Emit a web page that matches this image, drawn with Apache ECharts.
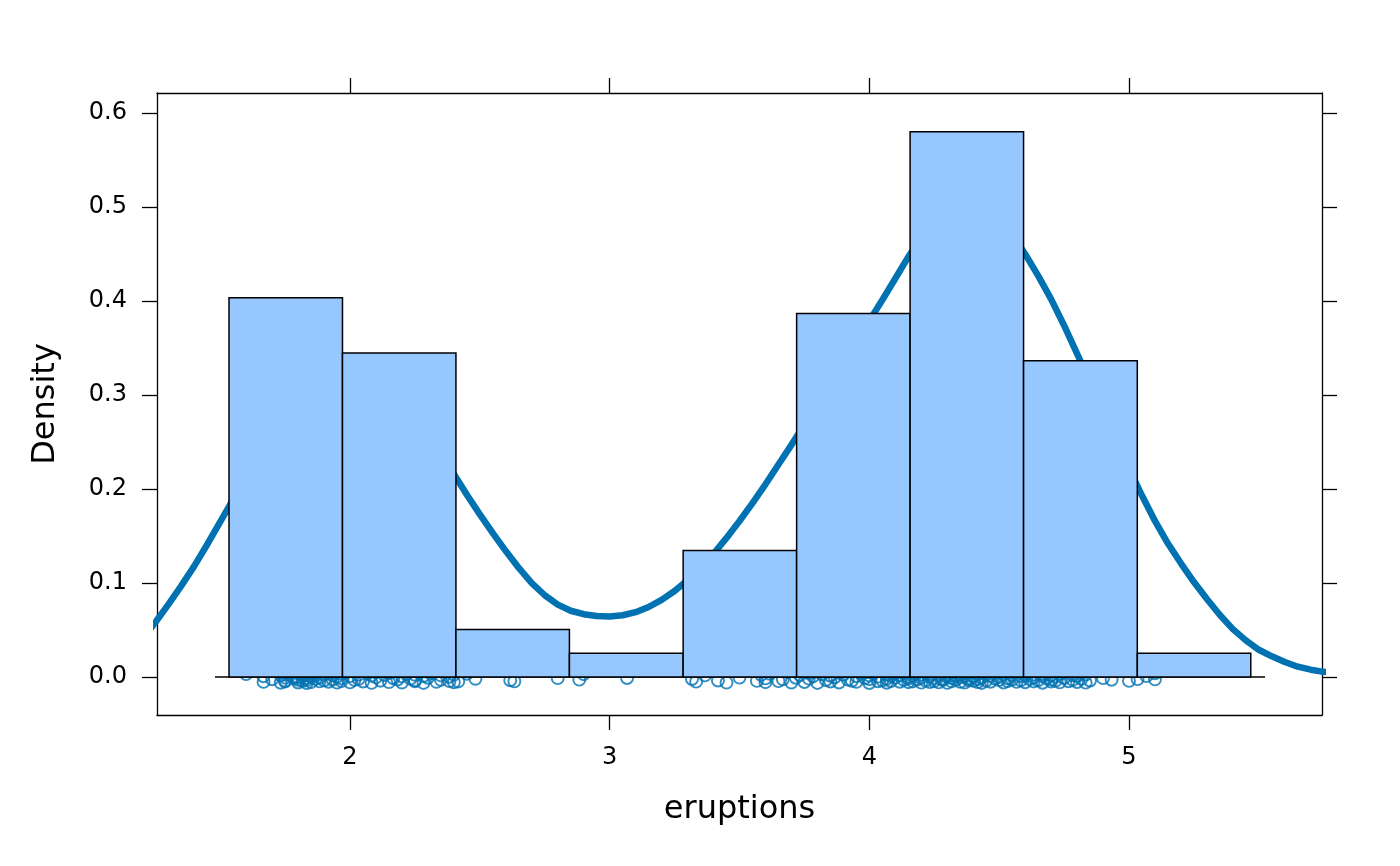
<!DOCTYPE html>
<html><head><meta charset="utf-8">
<script src="https://cdn.jsdelivr.net/npm/echarts@6/dist/echarts.min.js"></script>
<style>html,body{margin:0;padding:0;background:#fff}#c{width:1400px;height:866px}</style>
</head><body><div id="c"></div>
<script>
// histogram bins (eruptions) and densities
const binEdges = [1.534, 1.971, 2.408, 2.845, 3.283, 3.720, 4.157, 4.594, 5.032, 5.469];
const binDensity = [0.4036, 0.3448, 0.0505, 0.0252, 0.1345, 0.3868, 0.5802, 0.3364, 0.0252];

// density curve
const curveX = [1.20,1.25,1.30,1.35,1.40,1.45,1.50,1.55,1.60,1.65,1.70,1.75,1.80,1.85,1.90,1.95,
  2.00,2.05,2.10,2.15,2.20,2.25,2.30,2.35,2.40,2.45,2.50,2.55,2.60,2.65,2.70,2.75,2.80,2.85,2.90,2.95,
  3.00,3.05,3.10,3.15,3.20,3.25,3.30,3.35,3.40,3.45,3.50,3.55,3.60,3.65,3.70,3.75,3.80,3.85,3.90,3.95,
  4.00,4.05,4.10,4.15,4.20,4.25,4.30,4.35,4.40,4.45,4.50,4.55,4.60,4.65,4.70,4.75,4.80,4.85,4.90,4.95,
  5.00,5.05,5.10,5.15,5.20,5.25,5.30,5.35,5.40,5.45,5.50,5.55,5.60,5.65,5.70,5.75,5.80];
const curveY = [0.040,0.058,0.077,0.097,0.118,0.141,0.165,0.189,0.212,0.235,0.257,0.277,0.295,0.310,0.321,0.328,
  0.331,0.329,0.323,0.312,0.298,0.280,0.260,0.238,0.216,0.194,0.173,0.153,0.134,0.116,0.100,0.087,0.077,0.0705,0.0668,0.0650,
  0.0645,0.0657,0.069,0.0745,0.082,0.0915,0.103,0.116,0.131,0.148,0.166,0.185,0.205,0.226,0.247,0.269,0.291,0.313,0.336,0.358,
  0.379,0.401,0.424,0.447,0.467,0.483,0.495,0.501,0.502,0.497,0.487,0.471,0.450,0.427,0.402,0.374,0.344,0.314,0.283,0.252,
  0.222,0.193,0.166,0.142,0.121,0.101,0.083,0.066,0.051,0.039,0.029,0.022,0.016,0.011,0.0078,0.0055,0.004];

// jittered observation points [eruptions, jitter]
const rugPoints = [
[1.600,0.0031],[1.667,-0.0052],[1.667,0.0008],[1.700,-0.0024],[1.700,0.0060],[1.733,-0.0061],[1.733,0.0019],[1.750,-0.0007],
[1.750,0.0044],[1.750,-0.0038],[1.750,0.0026],[1.750,-0.0049],[1.750,0.0053],[1.783,-0.0015],[1.783,0.0002],[1.800,-0.0058],
[1.800,0.0037],[1.800,-0.0029],[1.800,0.0064],[1.800,-0.0003],[1.817,0.0012],[1.817,-0.0041],[1.833,0.0049],[1.833,-0.0064],
[1.833,0.0022],[1.833,-0.0011],[1.833,0.0057],[1.833,-0.0033],[1.850,0.0005],[1.850,-0.0055],[1.867,0.0039],[1.867,-0.0020],
[1.867,0.0016],[1.883,-0.0046],[1.883,0.0062],[1.883,-0.0009],[1.900,0.0029],[1.900,-0.0036],[1.917,0.0041],[1.917,-0.0050],
[1.933,0.0018],[1.933,-0.0027],[1.950,0.0055],[1.950,-0.0060],[1.950,0.0001],[1.967,-0.0043],[1.967,0.0034],[1.967,-0.0016],
[1.983,0.0047],[2.000,-0.0057],[2.000,0.0010],[2.017,-0.0031],[2.017,0.0063],[2.033,-0.0022],[2.033,0.0025],[2.050,-0.0048],
[2.067,0.0036],[2.083,-0.0062],[2.083,0.0014],[2.100,-0.0004],[2.100,0.0051],[2.117,-0.0039],[2.133,0.0021],[2.150,-0.0054],
[2.150,0.0043],[2.167,-0.0013],[2.167,0.0058],[2.183,-0.0026],[2.200,0.0007],[2.200,-0.0059],[2.217,0.0032],[2.233,-0.0018],
[2.233,0.0061],[2.250,-0.0045],[2.250,0.0024],[2.250,-0.0035],[2.267,0.0048],[2.283,-0.0063],[2.283,0.0011],[2.300,-0.0008],
[2.317,0.0040],[2.333,-0.0051],[2.350,0.0017],[2.350,-0.0030],[2.367,0.0056],[2.383,-0.0044],[2.383,0.0003],[2.400,-0.0056],
[2.400,0.0027],
[2.417,-0.0047],[2.450,0.0035],[2.483,-0.0019],[2.617,-0.0034],[2.633,-0.0046],[2.800,-0.0012],
[2.883,-0.0028],[2.900,0.0030],[3.067,-0.0010],
[3.317,-0.0021],[3.333,-0.0049],[3.367,0.0018],[3.417,-0.0037],[3.450,-0.0060],[3.500,-0.0006],[3.567,-0.0041],[3.583,0.0024],
[3.600,-0.0055],[3.600,-0.0014],[3.617,0.0033],[3.650,-0.0044],[3.667,-0.0025],[3.683,0.0052],[3.700,-0.0059],[3.717,-0.0008],
[3.733,0.0020],[3.750,-0.0053],[3.767,0.0041],[3.767,-0.0017],[3.783,0.0006],[3.800,-0.0063],[3.817,0.0029],[3.833,-0.0032],
[3.833,0.0054],[3.850,-0.0048],[3.850,0.0013],[3.867,-0.0002],[3.883,0.0046],[3.883,-0.0058],[3.900,0.0023],[3.917,-0.0027],
[3.917,0.0060],[3.933,-0.0040],[3.950,0.0009],[3.950,-0.0052],[3.967,0.0037],[3.983,-0.0012],[4.000,0.0050],[4.000,-0.0064],
[4.000,0.0016],[4.000,-0.0023],[4.017,0.0043],[4.033,-0.0045],[4.033,0.0004],[4.050,-0.0036],[4.050,0.0058],[4.067,-0.0019],
[4.067,0.0027],[4.067,-0.0061],[4.083,0.0011],[4.083,-0.0042],[4.100,0.0035],[4.100,-0.0007],[4.100,0.0062],[4.117,-0.0050],
[4.117,0.0019],[4.133,-0.0030],[4.133,0.0047],[4.150,-0.0055],[4.150,0.0002],[4.150,-0.0016],
[4.167,0.0039],[4.167,-0.0047],[4.167,0.0012],[4.183,-0.0026],[4.183,0.0055],[4.200,-0.0060],[4.200,0.0024],[4.200,-0.0009],
[4.217,0.0044],[4.217,-0.0038],[4.233,0.0007],[4.233,-0.0053],[4.233,0.0031],[4.250,-0.0014],[4.250,0.0061],[4.250,-0.0043],
[4.267,0.0018],[4.267,-0.0057],[4.267,0.0036],[4.283,-0.0021],[4.283,0.0049],[4.283,-0.0033],[4.300,0.0003],[4.300,-0.0062],
[4.300,0.0028],[4.317,-0.0011],[4.317,0.0053],[4.317,-0.0046],[4.333,0.0015],[4.333,-0.0029],[4.333,0.0058],[4.350,-0.0051],
[4.350,0.0022],[4.350,-0.0004],[4.367,0.0042],[4.367,-0.0059],[4.367,0.0010],[4.383,-0.0035],[4.383,0.0046],[4.383,-0.0018],
[4.400,0.0064],[4.400,-0.0041],[4.400,0.0005],[4.417,-0.0054],[4.417,0.0033],[4.417,-0.0024],[4.433,0.0051],[4.433,-0.0008],
[4.433,-0.0063],[4.450,0.0026],[4.450,-0.0039],[4.467,0.0013],[4.467,-0.0050],[4.483,0.0040],[4.483,-0.0017],[4.500,0.0057],
[4.500,-0.0032],[4.500,0.0001],[4.517,-0.0058],[4.517,0.0030],[4.533,-0.0013],[4.533,0.0045],[4.533,-0.0044],[4.550,0.0019],
[4.550,-0.0027],[4.567,0.0060],[4.567,-0.0052],[4.583,0.0008],[4.583,-0.0036],
[4.600,0.0038],[4.600,-0.0056],[4.600,0.0014],[4.617,-0.0022],[4.617,0.0050],[4.633,-0.0047],[4.633,0.0025],[4.633,-0.0006],
[4.650,0.0059],[4.650,-0.0034],[4.667,0.0009],[4.667,-0.0061],[4.667,0.0032],[4.683,-0.0015],[4.683,0.0044],[4.700,-0.0049],
[4.700,0.0017],[4.700,-0.0028],[4.700,0.0055],[4.717,-0.0040],[4.717,0.0004],[4.733,-0.0057],[4.733,0.0036],[4.750,-0.0010],
[4.750,0.0048],[4.767,-0.0045],[4.783,0.0021],[4.783,-0.0031],[4.800,0.0062],[4.800,-0.0053],[4.800,0.0011],[4.817,-0.0019],
[4.817,0.0041],[4.833,-0.0060],[4.833,0.0027],[4.850,-0.0037],[4.900,-0.0012],[4.933,-0.0029],[5.000,-0.0041],[5.033,-0.0022],
[5.067,0.0010],[5.100,-0.0025],[5.100,0.0040]
];

const baseline = [[1.48, 0], [5.524, 0]];
const xTicks = [2, 3, 4, 5];
const yTicks = [0, 0.1, 0.2, 0.3, 0.4, 0.5, 0.6];
const xLimits = [1.2567, 5.7433];
const yLimits = [-0.0404, 0.6213];

const lineColor = '#0072B2';
const barFill = '#96C7FF';
const font = 'DejaVu Sans';

const bars = binDensity.map((d, i) => [binEdges[i], binEdges[i + 1], d]);
const curve = curveX.map((x, i) => [x, curveY[i]]);

const chart = echarts.init(document.getElementById('c'), null, {renderer: 'canvas'});

const baseX = {
  type: 'value', min: xLimits[0], max: xLimits[1],
  axisLine: {show: true, onZero: false, lineStyle: {color: '#000', width: 1.3}},
  axisTick: {show: true, inside: false, length: 15, customValues: xTicks, lineStyle: {color: '#000', width: 1.3}},
  splitLine: {show: false}
};
const baseY = {
  type: 'value', min: yLimits[0], max: yLimits[1],
  axisLine: {show: true, onZero: false, lineStyle: {color: '#000', width: 1.3}},
  axisTick: {show: true, inside: false, length: 15, customValues: yTicks, lineStyle: {color: '#000', width: 1.3}},
  splitLine: {show: false}
};

chart.setOption({
  backgroundColor: '#fff',
  animation: false,
  grid: {left: 157, right: 78, top: 93, bottom: 151, show: false},
  xAxis: [
    Object.assign({}, baseX, {
      position: 'bottom',
      name: 'eruptions', nameLocation: 'middle', nameGap: 79,
      nameTextStyle: {fontFamily: font, fontSize: 32, color: '#000'},
      axisLabel: {show: true, customValues: xTicks, margin: 31, fontFamily: font, fontSize: 24, color: '#000',
        formatter: v => String(v)}
    }),
    Object.assign({}, baseX, {position: 'top', axisLabel: {show: false}})
  ],
  yAxis: [
    Object.assign({}, baseY, {
      position: 'left',
      name: 'Density', nameLocation: 'middle', nameGap: 95, nameRotate: 90,
      nameTextStyle: {fontFamily: font, fontSize: 32, color: '#000'},
      axisLabel: {show: true, customValues: yTicks, margin: 30, fontFamily: font, fontSize: 24, color: '#000',
        formatter: v => v.toFixed(1)}
    }),
    Object.assign({}, baseY, {position: 'right', axisLabel: {show: false}})
  ],
  series: [
    {
      type: 'line', data: curve, xAxisIndex: 0, yAxisIndex: 0,
      smooth: false, showSymbol: false, symbol: 'none', clip: true,
      lineStyle: {color: lineColor, width: 6.5, join: 'round', cap: 'round'}, z: 1
    },
    {
      type: 'scatter', data: rugPoints, xAxisIndex: 0, yAxisIndex: 0,
      symbol: 'circle', symbolSize: 12,
      itemStyle: {color: 'rgba(0,0,0,0)', borderColor: lineColor, borderWidth: 1.9},
      z: 2
    },
    {
      type: 'line', data: baseline, xAxisIndex: 0, yAxisIndex: 0,
      showSymbol: false, symbol: 'none', lineStyle: {color: '#000', width: 1.3}, z: 3
    },
    {
      type: 'custom', data: bars, xAxisIndex: 0, yAxisIndex: 0,
      encode: {x: [0, 1], y: 2}, z: 4,
      renderItem: function (params, api) {
        const p0 = api.coord([api.value(0), api.value(2)]);
        const p1 = api.coord([api.value(1), 0]);
        return {
          type: 'rect',
          shape: {x: p0[0], y: p0[1], width: p1[0] - p0[0], height: p1[1] - p0[1]},
          style: {fill: barFill, stroke: '#000', lineWidth: 1.5}
        };
      }
    }
  ]
});
</script>
</body></html>
